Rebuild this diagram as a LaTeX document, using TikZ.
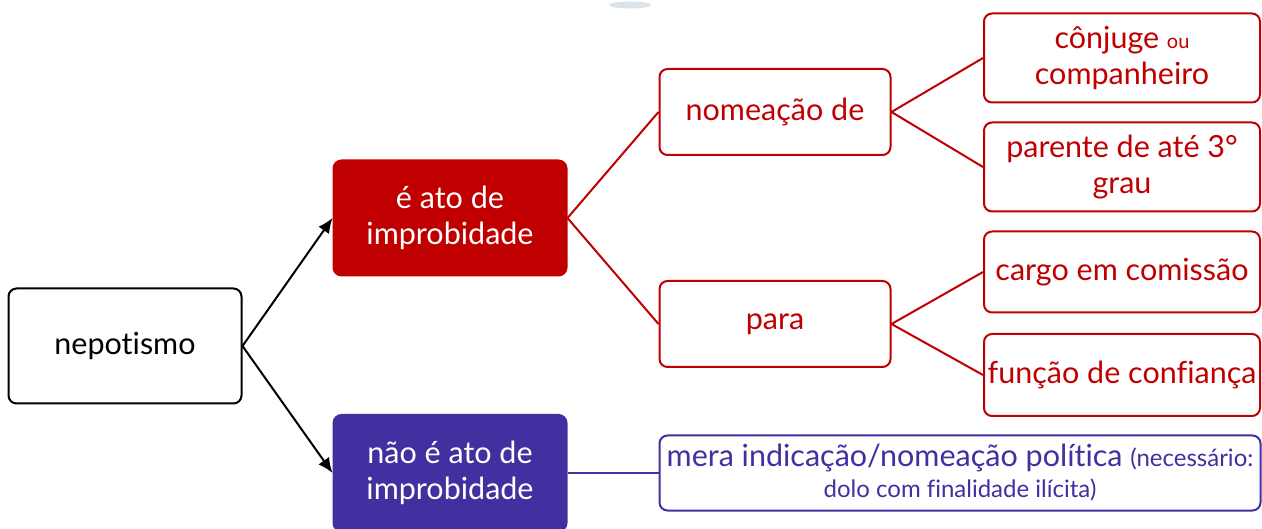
\documentclass[tikz,border=0pt]{standalone}
\usepackage{fontspec}
\setmainfont{Lato}[Ligatures=NoCommon]
\usetikzlibrary{arrows.meta}
\definecolor{myred}{HTML}{C00000}
\definecolor{mypurple}{HTML}{4030A0}
\definecolor{blob}{HTML}{DCE3E8}
\begin{document}
\begin{tikzpicture}[x=1pt,y=-1pt,
  box/.style={rectangle,rounded corners=8pt,line width=2pt,inner sep=0pt,align=center,
    font=\fontsize{30.5}{36}\selectfont},
  blackbox/.style={box,draw=black,text=black},
  redfill/.style={box,draw=myred,fill=myred,text=white},
  purplefill/.style={box,draw=mypurple,fill=mypurple,text=white},
  redbox/.style={box,draw=myred,fill=white,text=myred},
  purplebox/.style={box,draw=mypurple,fill=white,text=mypurple},
  arr/.style={line width=2pt,-{Latex[length=15pt,width=13pt]}},
  redline/.style={line width=2pt,draw=myred},
  purpleline/.style={line width=2pt,draw=mypurple}]
\useasboundingbox (0,0) rectangle (1262,529);
\fill[blob] (630,5) ellipse (21 and 3.5);
\node[blackbox,minimum width=233,minimum height=115] (nep) at (125,346) {nepotismo};
\node[redfill,minimum width=233,minimum height=115] (ato) at (450,218) {é ato de\\improbidade};
\node[purplefill,minimum width=233,minimum height=116] (nao) at (450,473) {não é ato de\\improbidade};
\node[redbox,minimum width=231,minimum height=86] (nom) at (775,112) {nomeação de};
\node[redbox,minimum width=231,minimum height=86] (para) at (775,324) {para};
\node[redbox,minimum width=276,minimum height=89] (conj) at (1122,58) {cônjuge {\fontsize{20}{24}\selectfont ou}\\companheiro};
\node[redbox,minimum width=276,minimum height=89] (par) at (1122,167) {parente de até 3°\\grau};
\node[redbox,minimum width=276,minimum height=81] (cargo) at (1122,272) {cargo em comissão};
\node[redbox,minimum width=276,minimum height=82] (func) at (1122,375) {função de confiança};
\node[purplebox,minimum width=601,minimum height=75] (mera) at (960,473) {mera indicação/nomeação política {\fontsize{24}{30}\selectfont (necessário:}\\[-5pt]{\fontsize{24}{30}\selectfont dolo com finalidade ilícita)}};
\draw[arr] (nep.east) -- (ato.west);
\draw[arr] (nep.east) -- (nao.west);
\draw[redline] (ato.east) -- (nom.west);
\draw[redline] (ato.east) -- (para.west);
\draw[redline] (nom.east) -- (conj.west);
\draw[redline] (nom.east) -- (par.west);
\draw[redline] (para.east) -- (cargo.west);
\draw[redline] (para.east) -- (func.west);
\draw[purpleline] (nao.east) -- (mera.west);
\end{tikzpicture}
\end{document}
